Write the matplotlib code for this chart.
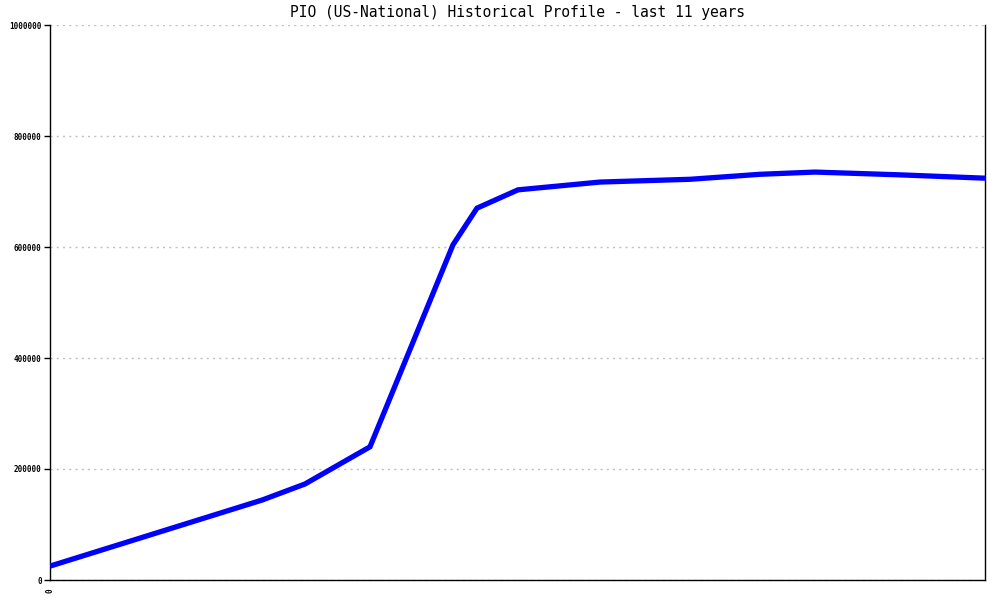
import matplotlib
matplotlib.use("Agg")
import matplotlib.pyplot as plt
from matplotlib.ticker import FixedLocator

# time axis in arbitrary units (0 = start of 11-year window)
months = [0, 212, 255, 320, 403, 427, 468, 550, 640, 710, 765, 850, 935]
values = [25000, 144000, 173000, 240000, 604000, 670000, 703000,
          717000, 722000, 731000, 735000, 730000, 724000]
y_ticks = [0, 200000, 400000, 600000, 800000, 1000000]
x_ticks = [0]

fig = plt.figure(figsize=(10, 6), dpi=100)
ax = fig.add_axes([0.05, 1 - 580 / 600, 0.935, 555 / 600])

ax.plot(months, values, color="#0000ff", linewidth=3.8,
        solid_joinstyle="miter", solid_capstyle="butt", zorder=3)

ax.set_xlim(0, 935)
ax.set_ylim(0, 1000000)
ax.yaxis.set_major_locator(FixedLocator(y_ticks))
ax.xaxis.set_major_locator(FixedLocator(x_ticks))
ax.set_yticklabels([str(v) for v in y_ticks], family="DejaVu Sans Mono",
                   fontsize=5.5, fontweight="bold")
ax.set_xticklabels([str(v) for v in x_ticks], family="DejaVu Sans Mono",
                   fontsize=5.5, fontweight="bold", rotation=90)
ax.tick_params(axis="y", length=4, width=1, direction="out", pad=2)
ax.tick_params(axis="x", length=0, pad=6)

ax.grid(axis="y", color="#c0c0c0", linestyle=(0, (1.5, 3)), linewidth=1)
for side in ("left", "bottom", "right"):
    ax.spines[side].set_color("black")
    ax.spines[side].set_linewidth(1)
ax.spines["top"].set_visible(False)

ax.set_title("PIO (US-National) Historical Profile - last 11 years",
             family="DejaVu Sans Mono", fontsize=10.5, pad=6)

fig.savefig("out.png", dpi=100)
